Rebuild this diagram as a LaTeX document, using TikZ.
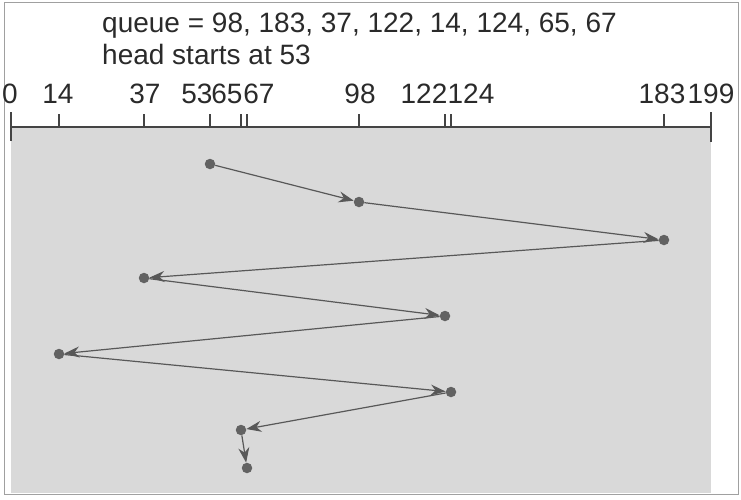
\documentclass[tikz,border=0pt]{standalone}
\usepackage{xcolor}
\usepackage{fontspec}
\setmainfont{Liberation Sans}
\usepackage{tikz}
\usetikzlibrary{arrows.meta}

\definecolor{panelgray}{HTML}{D9D9D9}
\definecolor{framegray}{HTML}{A0A0A0}
\definecolor{textgray}{HTML}{2A2A2A}
\definecolor{axisgray}{HTML}{444444}
\definecolor{linegray}{HTML}{585858}
\definecolor{dotgray}{HTML}{626262}

\tikzset{
  cyl/.style={circle,fill=dotgray,inner sep=0pt,minimum size=10.5pt},
  seek/.style={draw=linegray,line width=1.2pt,-{Stealth[length=15pt,width=11pt]}},
  axisline/.style={draw=axisgray,line width=1.4pt},
  lbl/.style={anchor=base,text=textgray,inner sep=0pt,font=\fontsize{28}{32}\selectfont},
}

\begin{document}
\begin{tikzpicture}[x=1pt,y=-1pt]
\useasboundingbox (0,0) rectangle (741,499);
% frame and shaded panel
\draw[framegray,line width=1pt] (4,2) rectangle (738,494);
\fill[panelgray] (11,128) rectangle (711,493);

% request queue
\node[lbl,anchor=base west] (queue) at (102,32) {queue = 98, 183, 37, 122, 14, 124, 65, 67};
\node[lbl,anchor=base west] (head) at (102,64) {head starts at 53};

% cylinder axis
\draw[axisline] (11,127) -- (711,127);
\draw[axisline] (11,112) -- (11,141);
\draw[axisline] (711,112) -- (711,142);
\foreach \v/\tx/\lx in {0/11/10,14/59/58,37/144/145,53/210/197,65/241/227,
    67/247/259,98/359/360,122/445/424,124/451/471,183/664/662,199/711/711} {
  \coordinate (t\v) at (\tx,127);
  \draw[axisline,line width=1.1pt] (t\v) -- ++(0,-13);
  \node[lbl] (l\v) at (\lx,103) {\v};
}

% head movement
\foreach \v [count=\i] in {53,98,183,37,122,14,124,65,67}
  \path (t\v) ++(0,{38*\i-1}) node[cyl] (d\i) {};
\foreach \i [remember=\i as \prev (initially 1)] in {2,...,9}
  \draw[seek] (d\prev) -- (d\i);
\end{tikzpicture}
\end{document}
